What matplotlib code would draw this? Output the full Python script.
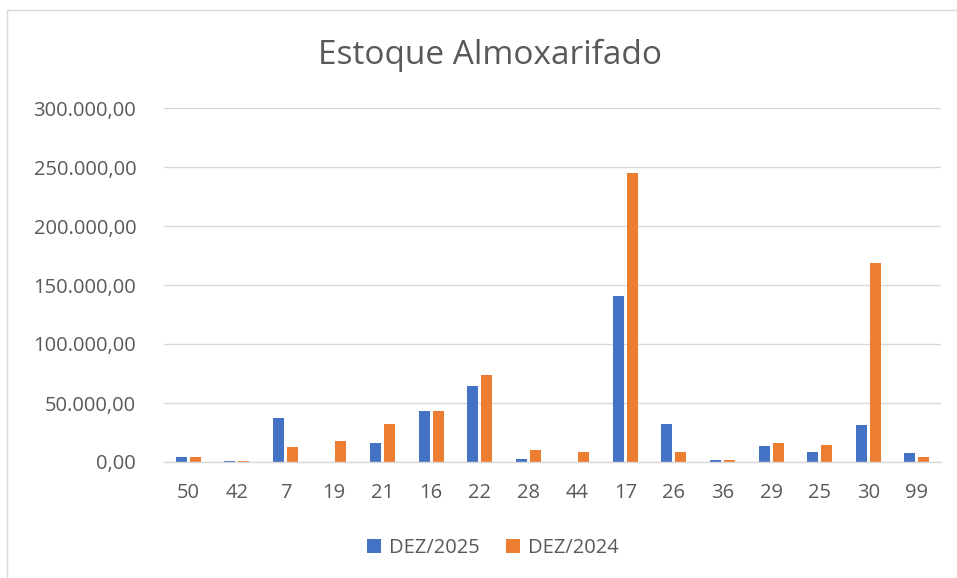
import matplotlib
matplotlib.use("Agg")
import matplotlib.pyplot as plt
from matplotlib.patches import Rectangle
import numpy as np

categories = ["50", "42", "7", "19", "21", "16", "22", "28", "44", "17", "26", "36", "29", "25", "30", "99"]
dez2025 = [4200, 500, 37000, 0, 16000, 43500, 64000, 2800, 0, 141000, 32000, 1700, 13300, 8200, 31600, 7600]
dez2024 = [4200, 500, 12500, 18000, 32500, 43500, 74000, 10000, 8800, 245000, 8500, 2000, 16000, 14200, 169000, 4200]
series_names = ["DEZ/2025", "DEZ/2024"]
yticks = [0, 50000, 100000, 150000, 200000, 250000, 300000]

def fmt(v):
    s = f"{v:,.2f}"
    return s.replace(",", "X").replace(".", ",").replace("X", ".")

plt.rcParams['font.family'] = ['Open Sans', 'DejaVu Sans']
text_color = "#595959"
grid_color = "#d9d9d9"

fig = plt.figure(figsize=(9.57, 5.78), dpi=100)
fig.patches.append(Rectangle((7/957, -0.1), 1.2, 1 - 10/578 + 0.1, transform=fig.transFigure,
                             fill=False, edgecolor=grid_color, linewidth=1))

ax = fig.add_axes([164/957, 1 - 462/578, (941 - 164)/957, (462 - 108)/578])
x = np.arange(len(categories))
w = 0.226
off = 0.144
ax.bar(x - off, dez2025, width=w, color="#4472C4", label=series_names[0], zorder=3)
ax.bar(x + off, dez2024, width=w, color="#ED7D31", label=series_names[1], zorder=3)

ax.set_xlim(-0.5, len(categories) - 0.5)
ax.set_ylim(0, 300000)
ax.set_yticks(yticks)
ax.set_yticklabels([fmt(v) for v in yticks])
ax.set_xticks(x)
ax.set_xticklabels(categories)
ax.tick_params(axis='both', length=0, labelsize=14.5, colors=text_color)
ax.tick_params(axis='y', pad=20)
ax.tick_params(axis='x', pad=15)
ax.grid(axis='y', color=grid_color, linewidth=1, zorder=0)
for s in ["top", "right", "left"]:
    ax.spines[s].set_visible(False)
ax.spines["bottom"].set_color(grid_color)
ax.spines["bottom"].set_linewidth(1)
ax.spines["bottom"].set_zorder(4)

fig.text(490/957, 1 - 55/578, "Estoque Almoxarifado", ha="center", va="center",
         fontsize=24, color=text_color)

leg = fig.legend(loc="center", bbox_to_anchor=(493/957, 1 - 548/578), ncol=2, frameon=False,
                 fontsize=14.5, handlelength=0.7, handleheight=0.7, columnspacing=1.3, handletextpad=0.4)
for t in leg.get_texts():
    t.set_color(text_color)

fig.savefig("out.png", dpi=100, facecolor="white")
